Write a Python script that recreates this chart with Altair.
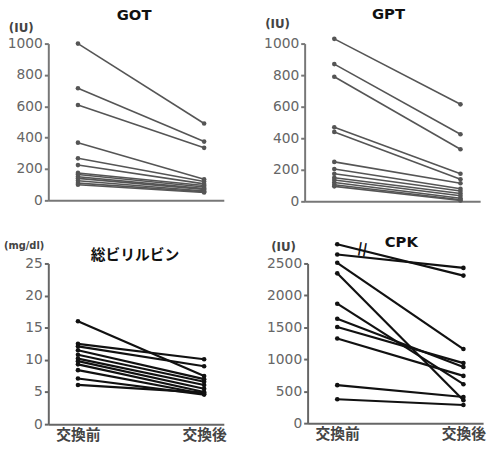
import altair as alt
import pandas as pd

got_before = [1000, 715, 608, 368, 268, 225, 175, 165, 150, 140, 125, 110, 100]
got_after = [490, 375, 335, 135, 120, 105, 95, 85, 75, 70, 60, 55, 50]

gpt_before = [1030, 870, 790, 470, 440, 250, 205, 175, 150, 135, 120, 105, 95]
gpt_after = [615, 425, 330, 175, 140, 115, 80, 65, 50, 35, 20, 10, 5]

bil_before = [16.0, 12.5, 12.1, 11.5, 10.8, 10.2, 9.8, 9.3, 8.4, 7.1, 6.1]
bil_after = [7.5, 10.1, 9.0, 7.0, 6.6, 6.1, 5.5, 5.0, 4.7, 4.6, 4.9]

cpk_before = [2800, 2640, 2510, 2345, 1870, 1635, 1505, 1325, 595, 375]
cpk_after = [2310, 2430, 1160, 360, 610, 880, 940, 740, 410, 285]

FONT = "DejaVu Sans"
JP = "Noto Sans CJK JP"


def make_df(before, after):
    rows = []
    for i, (b, a) in enumerate(zip(before, after)):
        rows.append({"id": i, "x": 0, "value": b})
        rows.append({"id": i, "x": 1, "value": a})
    return pd.DataFrame(rows)


def panel(title, unit, before, after, ymax, ystep, show_x, height, color, sw,
          title_font, title_pos, unit_pos, unit_size, axis_color):
    df = make_df(before, after)
    xaxis = alt.Axis(
        values=[0, 1],
        labels=show_x,
        labelExpr="datum.value == 0 ? '交換前' : '交換後'",
        ticks=False,
        title=None,
        domainColor=axis_color,
        domainWidth=2,
        labelFont=JP,
        labelFontSize=15,
        labelFontWeight="bold",
        labelColor="#444",
        labelPadding=4,
        grid=False,
    )
    yaxis = alt.Axis(
        values=list(range(0, ymax + 1, ystep)),
        format="d",
        title=None,
        domainColor=axis_color,
        domainWidth=2,
        tickColor=axis_color,
        tickSize=4,
        tickWidth=2,
        labelFont=FONT,
        labelFontSize=14,
        labelColor="#666",
        labelPadding=2,
        grid=False,
    )
    x = alt.X("x:Q", scale=alt.Scale(domain=[-0.235, 1.156], nice=False, zero=False), axis=xaxis)
    y = alt.Y("value:Q", scale=alt.Scale(domain=[0, ymax], nice=False), axis=yaxis)
    base = alt.Chart(df)
    lines = base.mark_line(color=color, strokeWidth=sw, clip=False).encode(x=x, y=y, detail="id:N")
    pts = base.mark_circle(color=color, size=22, opacity=1, clip=False).encode(x=x, y=y)
    ttl = alt.Chart(pd.DataFrame({"t": [title]})).mark_text(
        font=title_font, fontSize=15, fontWeight="bold", color="#111", align="center", baseline="middle"
    ).encode(text="t:N", x=alt.value(title_pos[0]), y=alt.value(title_pos[1]))
    unt = alt.Chart(pd.DataFrame({"t": [unit]})).mark_text(
        font=FONT, fontSize=unit_size, fontWeight="bold", color="#444", align="left", baseline="middle"
    ).encode(text="t:N", x=alt.value(unit_pos[0]), y=alt.value(unit_pos[1]))
    layers = [lines, pts, ttl, unt]
    if title == "CPK":
        brk = alt.Chart(pd.DataFrame({"x": [0.2], "value": [2725], "t": ["||"]})).mark_text(
            font=FONT, fontSize=14, fontWeight="bold", color=color, angle=10
        ).encode(x=x, y=y, text="t:N")
        layers.append(brk)
    return alt.layer(*layers).properties(width=178, height=height)


p1 = panel("GOT", "(IU)", got_before, got_after, 1000, 200, False, 159, "#555", 1.6, FONT,
           (87, -29), (-40, -16), 12, "#777")
p2 = panel("GPT", "(IU)", gpt_before, gpt_after, 1000, 200, False, 160, "#555", 1.6, FONT,
           (85, -30), (-40, -20), 12, "#777")
p3 = panel("総ビリルビン", "(mg/dl)", bil_before, bil_after, 25, 5, True, 163, "#111", 2.2, JP,
           (88, -9), (-45, -18), 10, "#666")
p4 = panel("CPK", "(IU)", cpk_before, cpk_after, 2500, 500, True, 162, "#111", 2.2, FONT,
           (95, -22), (-37, -17), 12, "#666")

chart = alt.vconcat(
    alt.hconcat(p1, p2, spacing=40),
    alt.hconcat(p3, p4, spacing=40),
    spacing=27,
).properties(background="white", padding=4).configure_view(stroke=None)

chart.save("out.html", embed_options={"renderer": "svg", "actions": False})
